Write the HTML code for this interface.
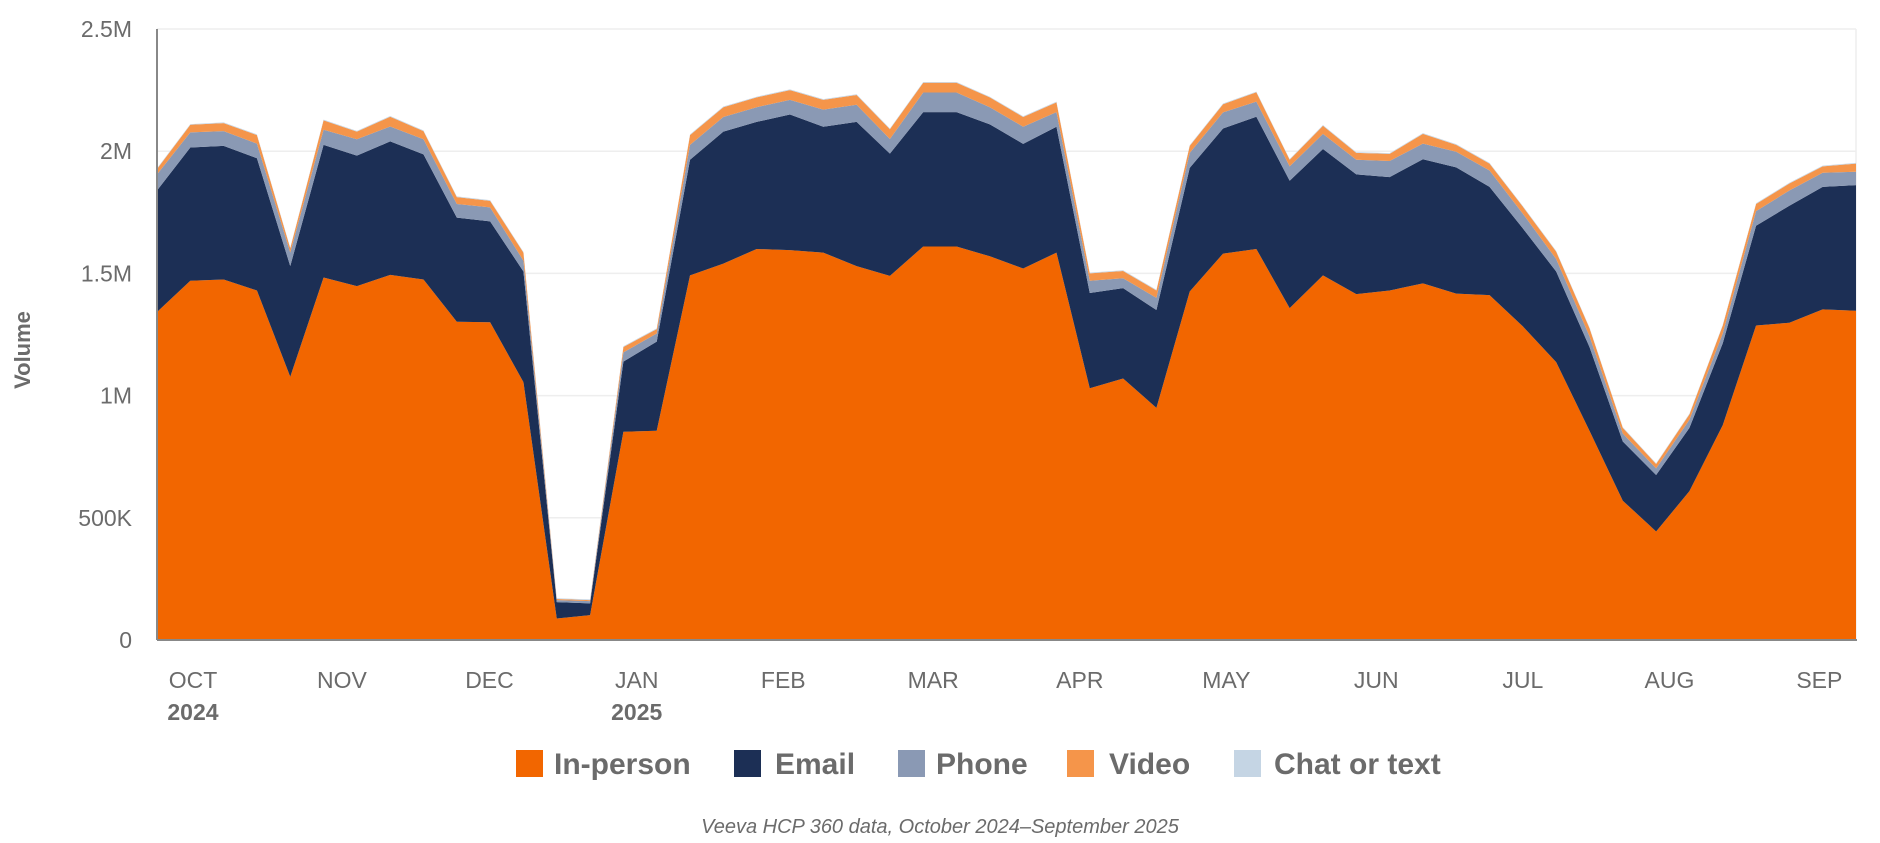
<!DOCTYPE html>
<html><head><meta charset="utf-8">
<style>
html,body{margin:0;padding:0;background:#fff;}
svg{display:block;font-family:"Liberation Sans",sans-serif;}
</style></head>
<body>
<svg id="chart" width="1880" height="843" viewBox="0 0 1880 843" xmlns="http://www.w3.org/2000/svg"></svg>
<script>
const weeks = 52;
const inPerson = [1342,1470,1475,1430,1077,1483,1448,1494,1475,1302,1300,1055,88,102,852,856,1492,1540,1600,1595,1585,1530,1490,1610,1610,1570,1520,1585,1030,1070,950,1426,1581,1600,1358,1492,1415,1430,1459,1417,1411,1283,1137,856,570,444,609,879,1287,1298,1353,1347];
const email = [497,545,547,541,453,543,534,546,512,426,413,453,67,48,287,365,473,540,520,555,515,590,500,550,550,540,510,515,390,370,400,506,512,541,521,517,490,464,508,517,443,401,371,343,242,231,259,335,408,479,501,514];
const phone = [66,62,60,60,55,62,67,61,62,56,57,44,8,9,38,33,61,60,60,60,70,70,60,80,80,70,70,60,50,40,50,61,66,62,59,62,60,66,64,64,67,60,51,44,33,27,33,40,60,62,58,55];
const video = [22,31,33,35,18,38,31,40,33,28,27,33,5,4,22,18,40,40,40,40,40,40,40,40,40,40,40,40,30,30,30,29,33,38,27,33,28,29,40,28,28,29,30,33,23,18,22,33,29,29,26,33];
const chat = [3,3,3,3,3,3,3,3,3,3,3,3,3,3,3,3,3,3,3,3,3,3,3,3,3,3,3,3,3,3,3,3,3,3,3,3,3,3,3,3,3,3,3,3,3,3,3,3,3,3,3,3];
const yTicks = [0,500,1000,1500,2000,2500];
const yTickLabels = ["0","500K","1M","1.5M","2M","2.5M"];
const monthLabels = ["OCT","NOV","DEC","JAN","FEB","MAR","APR","MAY","JUN","JUL","AUG","SEP"];
const monthWeek = [1.08,5.55,9.98,14.4,18.8,23.3,27.7,32.1,36.6,41.0,45.4,49.9];
const yearLabels = {0:"2024",3:"2025"};

const NS="http://www.w3.org/2000/svg";
const svg=document.getElementById('chart');
const L=157,R=1856,T=29,B=640;
const x=i=>L+(R-L)*i/(weeks-1);
const y=v=>B-(B-T)*v/2500;
function mk(tag,attrs,parent){const e=document.createElementNS(NS,tag);for(const k in attrs)e.setAttribute(k,attrs[k]);(parent||svg).appendChild(e);return e;}

// grid
yTicks.forEach((t,i)=>{
  if(t>0){const g=mk('line',{x1:L,x2:R,y1:y(t),y2:y(t),stroke:'#eeeeee','stroke-width':1.5});
  
  }
  const tx=mk('text',{x:132,y:y(t)+8,'text-anchor':'end','font-size':23,fill:'#6b6b6b'});
  tx.textContent=yTickLabels[i];
  
  
});
mk('line',{x1:R,x2:R,y1:T,y2:B,stroke:'#eeeeee','stroke-width':1.5});

// stacked areas
const series=[
 {name:'in-person',vals:inPerson,color:'#f26600'},
 {name:'email',vals:email,color:'#1c2f55'},
 {name:'phone',vals:phone,color:'#8a99b4'},
 {name:'video',vals:video,color:'#f5954a'},
 {name:'chat-or-text',vals:chat,color:'#c5d5e4'}
];
let base=new Array(weeks).fill(0);
series.forEach(s=>{
  const top=base.map((b,i)=>b+s.vals[i]);
  let d='M'+x(0)+','+y(top[0]);
  for(let i=1;i<weeks;i++)d+='L'+x(i)+','+y(top[i]);
  for(let i=weeks-1;i>=0;i--)d+='L'+x(i)+','+y(base[i]);
  d+='Z';
  const p=mk('path',{d:d,fill:s.color});
  
  
  base=top;
});
// redraw in-person over (no-op order fine)

// axes
const ax1=mk('line',{x1:L,x2:L,y1:T,y2:B,stroke:'#888','stroke-width':2});


const ax2=mk('line',{x1:L,x2:R+1,y1:B,y2:B,stroke:'#888','stroke-width':2});



// month labels
monthLabels.forEach((m,i)=>{
  const t=mk('text',{x:x(monthWeek[i]),y:688,'text-anchor':'middle','font-size':23,fill:'#6b6b6b'});
  t.textContent=m;
  
  
  if(yearLabels[i]){
    const yt=mk('text',{x:x(monthWeek[i]),y:720,'text-anchor':'middle','font-size':23,'font-weight':'bold',fill:'#6b6b6b'});
    yt.textContent=yearLabels[i];
    
    
  }
});

// y title
const yt=mk('text',{x:0,y:0,transform:'translate(30,350) rotate(-90)','text-anchor':'middle','font-size':22,'font-weight':'bold',fill:'#6b6b6b'});
yt.textContent='Volume';



// legend
const legend=[
 {label:'In-person',color:'#f26600',sx:516,tx:554},
 {label:'Email',color:'#1c2f55',sx:734,tx:775},
 {label:'Phone',color:'#8a99b4',sx:898,tx:936},
 {label:'Video',color:'#f5954a',sx:1067,tx:1109},
 {label:'Chat or text',color:'#c5d5e4',sx:1234,tx:1274}
];
legend.forEach(l=>{
  const g=mk('g',{});
  
  
  mk('rect',{x:l.sx,y:750,width:27,height:27,fill:l.color},g);
  const t=mk('text',{x:l.tx,y:774,'font-size':30,'font-weight':'bold',fill:'#6b6b6b'},g);
  t.textContent=l.label;
});

// footer
const f=mk('text',{x:940,y:833,'text-anchor':'middle','font-size':20,'font-style':'italic',fill:'#6b6b6b'});
f.textContent='Veeva HCP 360 data, October 2024–September 2025';


</script>
</body></html>
